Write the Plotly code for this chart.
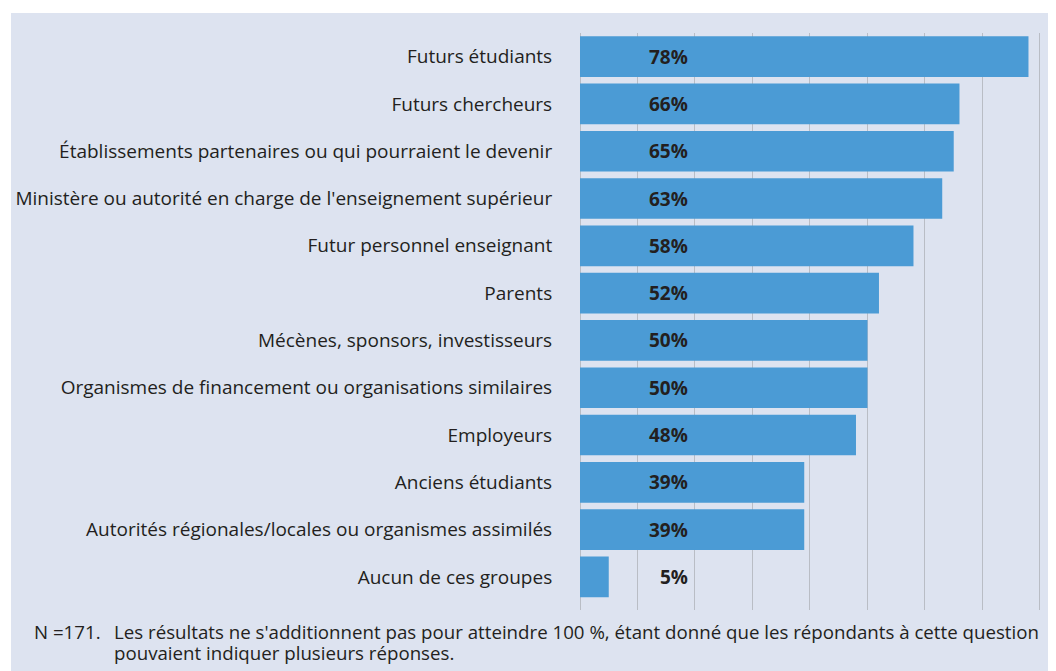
"""Horizontal bar chart: groups targeted (share of respondents)."""
import plotly.graph_objects as go

categories = [
    "Futurs étudiants",
    "Futurs chercheurs",
    "Établissements partenaires ou qui pourraient le devenir",
    "Ministère ou autorité en charge de l'enseignement supérieur",
    "Futur personnel enseignant",
    "Parents",
    "Mécènes, sponsors, investisseurs",
    "Organismes de financement ou organisations similaires",
    "Employeurs",
    "Anciens étudiants",
    "Autorités régionales/locales ou organismes assimilés",
    "Aucun de ces groupes",
]
values = [78, 66, 65, 63, 58, 52, 50, 50, 48, 39, 39, 5]

note_n = "N =171."
note_lines = [
    "Les résultats ne s'additionnent pas pour atteindre 100 %, étant donné que les répondants à cette question",
    "pouvaient indiquer plusieurs réponses.",
]

BG = '#dde3f0'
BAR = '#4b9bd5'
GRID = '#b9bdc5'
TEXT = '#231f20'
FONT = 'Open Sans'
FS = 19
FS_NOTE = 18.7

# the page adds an 8px body margin, so the figure is drawn 8px smaller
OFF = 8
W, H = 1056 - OFF, 671 - OFF
L, R, T, B = 580 - OFF, 12, 33 - OFF, 61
pw, ph = W - L - R, H - T - B


def px_x(x):
    return (x - OFF - L) / pw


def px_y(y):
    return 1 - (y - OFF - T) / ph


fig = go.Figure()

fig.add_trace(go.Bar(
    x=values,
    y=categories,
    orientation='h',
    marker=dict(color=BAR, line=dict(width=0)),
    width=0.86,
    hoverinfo='x+y',
))

# percentage labels, right-aligned at a fixed position inside the bars
for cat, v in zip(categories, values):
    fig.add_annotation(
        x=19.2, y=cat, xref='x', yref='y',
        text=f'<b>{v}%</b>', showarrow=False,
        xanchor='right', yanchor='middle',
        font=dict(family=FONT, size=FS, color=TEXT),
    )

# footnote (hanging indent)
fig.add_annotation(
    x=px_x(32), y=px_y(631), xref='paper', yref='paper',
    text=note_n, showarrow=False, xanchor='left', yanchor='middle',
    font=dict(family=FONT, size=FS_NOTE, color=TEXT),
)
for i, line in enumerate(note_lines):
    fig.add_annotation(
        x=px_x(112), y=px_y(631 + 21 * i), xref='paper', yref='paper',
        text=line, showarrow=False, xanchor='left', yanchor='middle',
        font=dict(family=FONT, size=FS_NOTE, color=TEXT),
    )

# light panel behind everything, leaving a thin white border top/left
fig.add_shape(
    type='rect', xref='paper', yref='paper', layer='below',
    x0=px_x(11), x1=1 + (R + 5) / pw,
    y0=-(B + 5) / ph, y1=px_y(13),
    fillcolor=BG, line=dict(width=0),
)

fig.update_layout(
    width=W, height=H,
    margin=dict(l=L, r=R, t=T, b=B, pad=0),
    paper_bgcolor='white',
    plot_bgcolor='rgba(0,0,0,0)',
    showlegend=False,
    font=dict(family=FONT, size=FS, color=TEXT),
    xaxis=dict(
        range=[0, 80.7],
        dtick=10,
        showgrid=True, gridcolor=GRID, gridwidth=1,
        zeroline=True, zerolinecolor=GRID, zerolinewidth=1,
        showticklabels=False, ticks='', showline=False,
        fixedrange=True, automargin=False,
    ),
    yaxis=dict(
        categoryorder='array', categoryarray=categories,
        range=[11.7, -0.5],
        showgrid=False, zeroline=False, showline=False,
        ticks='outside', ticklen=23, tickcolor='rgba(0,0,0,0)',
        tickfont=dict(family=FONT, size=FS, color=TEXT),
        fixedrange=True, automargin=False,
    ),
)

fig.write_html("out.html")
